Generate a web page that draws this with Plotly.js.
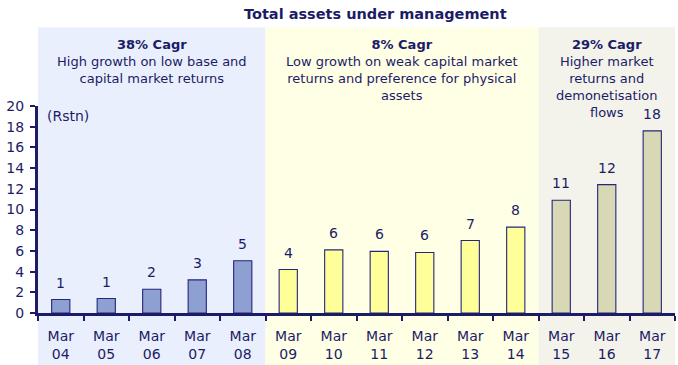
<!DOCTYPE html>
<html>
<head>
<meta charset="utf-8">
<script src="https://cdn.plot.ly/plotly-3.0.1.min.js"></script>
<style>html,body{margin:0;padding:0;background:#fff;}#chart{width:678px;height:365px;}</style>
</head>
<body>
<div id="chart"></div>
<script>
// Data
var categories = ['Mar<br>04','Mar<br>05','Mar<br>06','Mar<br>07','Mar<br>08','Mar<br>09','Mar<br>10','Mar<br>11','Mar<br>12','Mar<br>13','Mar<br>14','Mar<br>15','Mar<br>16','Mar<br>17'];
var values = [1.3, 1.4, 2.3, 3.2, 5.05, 4.2, 6.1, 5.95, 5.85, 7.0, 8.3, 10.9, 12.4, 17.6];
var valueLabels = ['1','1','2','3','5','4','6','6','6','7','8','11','12','18'];
var phase = [0,0,0,0,0,1,1,1,1,1,1,2,2,2];
var phaseTitles = ['38% Cagr','8% Cagr','29% Cagr'];
var phaseNotes = ['High growth on low base and<br>capital market returns',
                  'Low growth on weak capital market<br>returns and preference for physical<br>assets',
                  'Higher market<br>returns and<br>demonetisation<br>flows'];
var phaseStart = [-0.5, 4.5, 10.5];
var phaseEnd = [4.5, 10.5, 13.5];
var yTicks = [0,2,4,6,8,10,12,14,16,18,20];
var unitLabel = '(Rstn)';
var chartTitle = 'Total assets under management';

var NAVY = '#1c1c66';
var phaseBg = ['#e9effc', '#ffffe6', '#f3f3ec'];
var barFill = ['#8e9fd1', '#ffff99', '#d9d8b4'];
var FONT = 'DejaVu Sans, Verdana, sans-serif';

var trace = {
  type: 'bar',
  x: categories,
  y: values,
  width: 0.4,
  marker: {color: phase.map(function(p){return barFill[p];}), line: {color: '#26267a', width: 1.1}},
  hoverinfo: 'skip'
};

var shapes = phaseStart.map(function(s, i){
  return {type:'rect', xref:'x', yref:'paper', x0:s, x1:phaseEnd[i], y0:-0.26, y1:1.38,
          fillcolor: phaseBg[i], line:{width:0}, layer:'below'};
});

var annotations = [];
annotations.push({xref:'paper', yref:'paper', x:0.53, y:1.445, yanchor:'middle', xanchor:'center',
  text:'<b>'+chartTitle+'</b>', showarrow:false, font:{family:FONT, size:14.5, color:NAVY}});
phaseStart.forEach(function(s, i){
  annotations.push({xref:'x', yref:'paper', x:(s+phaseEnd[i])/2, y:1.345, yanchor:'top', xanchor:'center',
    text:'<b>'+phaseTitles[i]+'</b><br>'+phaseNotes[i], showarrow:false, align:'center',
    font:{family:FONT, size:13, color:NAVY}});
});
values.forEach(function(v, i){
  annotations.push({x:categories[i], y:v, yanchor:'bottom', yshift:7, text:valueLabels[i], showarrow:false,
    font:{family:FONT, size:14, color:NAVY}});
});
annotations.push({xref:'x', yref:'y', x:-0.5, y:19, xanchor:'left', xshift:7, yanchor:'middle', text:unitLabel, showarrow:false,
  font:{family:FONT, size:14, color:NAVY}});

var layout = {
  width: 678, height: 365,
  margin: {l:38, r:3, t:106, b:52},
  paper_bgcolor: '#ffffff',
  plot_bgcolor: 'rgba(0,0,0,0)',
  showlegend: false,
  font: {family: FONT, size: 14, color: NAVY},
  xaxis: {
    type:'category', range:[-0.5, 13.5], tickson:'boundaries', ticks:'outside', ticklen:5, tickwidth:2, tickcolor:NAVY,
    showline:true, linecolor:NAVY, linewidth:3, showgrid:false, zeroline:false, ticklabelstandoff:8,
    tickfont:{family:FONT, size:14, color:NAVY}
  },
  yaxis: {
    range:[0,20], tickvals:yTicks, ticks:'outside', ticklen:5, tickwidth:2, tickcolor:NAVY,
    showline:true, linecolor:NAVY, linewidth:3, showgrid:false, zeroline:false, ticklabelstandoff:3,
    tickfont:{family:FONT, size:14, color:NAVY}
  },
  shapes: shapes,
  annotations: annotations
};

Plotly.newPlot('chart', [trace], layout, {displayModeBar:false, staticPlot:true});
</script>
</body>
</html>
